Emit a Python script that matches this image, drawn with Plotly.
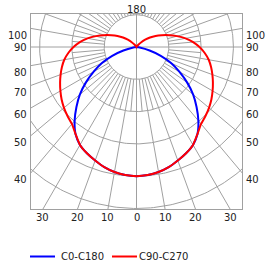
import numpy as np
import plotly.graph_objects as go

# ---- data (luminous intensity, arbitrary units; ring step = 50) ----
angles_c0 = [0, 5, 10, 15, 20, 25, 30, 35, 40, 45, 50, 55, 60, 65, 70, 75, 80, 85, 90]
int_c0_c180 = [200, 199, 196.5, 192.5, 187, 181.5, 175, 164.5, 149, 131.5, 114.5, 95.5, 76.5, 59.5, 40, 21, 5, 0, 0]

angles_c90 = [0, 5, 10, 15, 20, 25, 30, 35, 40, 45, 50, 55, 60, 65, 70, 75, 80, 85, 90,
              95, 100, 105, 110, 115, 120, 125, 130, 135, 140, 145, 150, 160, 170, 180]
int_c90_c270 = [200, 199, 196.5, 192.5, 187, 181.5, 175, 164.5, 155.5, 151, 146.5, 141.5, 136, 130.5,
                125, 119.5, 113.5, 106, 97.5, 88, 77, 65, 53.5, 43, 34, 25.5, 17.5, 10.5, 5, 1.5, 0, 0, 0, 0]

ring_values = [50, 100, 150, 200, 250, 300, 350]
side_labels = [100, 90, 80, 70, 60, 50, 40]
bottom_labels = [30, 20, 10, 0, 10, 20, 30]
bottom_angles = [-30, -20, -10, 0, 10, 20, 30]
series_names = ["C0-C180", "C90-C270"]
series_colors = ["#0000ff", "#ff0000"]

# plot window (data units)
XR = 163.3
Y_TOP = 51.1
Y_BOT = -250.8

GRID = "#a0a0a0"
FONT = "DejaVu Sans"
TXT = "#222222"

# plot area in pixels (for the hand-made legend)
W, H = 275, 266
ML, MR, MT, MB = 31, 33, 14, 57
PW, PH = W - ML - MR, H - MT - MB


def px_x(p):
    return (p - ML) / PW


def px_y(p):
    return (H - MB - p) / PH


fig = go.Figure()

# ---- grid: rings ----
t = np.linspace(0, 2 * np.pi, 361)
gx, gy = [], []
for rv in ring_values:
    gx += list(rv * np.cos(t)) + [None]
    gy += list(rv * np.sin(t)) + [None]
# full axis lines
gx += [-1000, 1000, None, 0, 0, None]
gy += [0, 0, None, -1000, 1000, None]
# spokes every 10 deg from first ring outwards, every 5 deg between ring 1 and 2
r1, r2 = ring_values[0], ring_values[1]
for a in range(5, 180, 5):
    if a == 90:
        continue
    rad = np.deg2rad(a)
    rout = 1000 if a % 10 == 0 else r2
    for s in (-1, 1):
        gx += [s * r1 * np.sin(rad), s * rout * np.sin(rad), None]
        gy += [-r1 * np.cos(rad), -rout * np.cos(rad), None]
fig.add_trace(go.Scatter(x=gx, y=gy, mode="lines", line=dict(color=GRID, width=1),
                         hoverinfo="skip", showlegend=False))


def curve(angles, vals):
    a = np.deg2rad(np.array(angles, dtype=float))
    v = np.array(vals, dtype=float)
    xl = -v[::-1] * np.sin(a[::-1])
    yl = -v[::-1] * np.cos(a[::-1])
    xr = v * np.sin(a)
    yr = -v * np.cos(a)
    return np.concatenate([xl, xr[1:]]), np.concatenate([yl, yr[1:]])


for ang, vals, name, col in [(angles_c0, int_c0_c180, series_names[0], series_colors[0]),
                             (angles_c90, int_c90_c270, series_names[1], series_colors[1])]:
    x, y = curve(ang, vals)
    fig.add_trace(go.Scatter(x=x, y=y, mode="lines", name=name, showlegend=False,
                             line=dict(color=col, width=2, shape="spline", smoothing=0.5),
                             hoverinfo="skip"))

# ---- labels ----
ann = []
for a in side_labels:
    rad = np.deg2rad(a)
    yv = -XR * np.cos(rad) / np.sin(rad)
    ys = 0 if a == 90 else -7
    ann.append(dict(x=-XR, y=yv, text=str(a), showarrow=False, xanchor="right", yanchor="middle",
                    xshift=-2, yshift=ys))
    ann.append(dict(x=XR, y=yv, text=str(a), showarrow=False, xanchor="left", yanchor="middle",
                    xshift=2, yshift=ys))
for lab, a in zip(bottom_labels, bottom_angles):
    rad = np.deg2rad(a)
    xv = -Y_BOT * np.tan(rad)
    ann.append(dict(x=xv, y=Y_BOT, text=str(lab), showarrow=False, xanchor="center", yanchor="middle",
                    yshift=-8))
ann.append(dict(x=0, y=Y_TOP, text="180", showarrow=False, xanchor="center", yanchor="middle", yshift=5))

# ---- legend (keys + real text) ----
shapes = []
leg_y = 256.5
leg_items = [(30, 55, 59), (112, 137, 137)]
for (x0, x1, xt), name, col in zip(leg_items, series_names, series_colors):
    shapes.append(dict(type="line", xref="paper", yref="paper", x0=px_x(x0), x1=px_x(x1),
                       y0=px_y(leg_y), y1=px_y(leg_y), line=dict(color=col, width=2)))
    ann.append(dict(xref="paper", yref="paper", x=px_x(xt), y=px_y(leg_y), text=name, showarrow=False,
                    xanchor="left", yanchor="middle"))

fig.update_layout(
    width=W, height=H, autosize=False,
    margin=dict(l=ML, r=MR, t=MT, b=MB),
    paper_bgcolor="white", plot_bgcolor="white",
    font=dict(family=FONT, size=10, color=TXT),
    xaxis=dict(range=[-XR, XR], showgrid=False, zeroline=False, showticklabels=False, ticks="",
               showline=True, mirror=True, linecolor=GRID, linewidth=1, fixedrange=True),
    yaxis=dict(range=[Y_BOT, Y_TOP], showgrid=False, zeroline=False, showticklabels=False, ticks="",
               showline=True, mirror=True, linecolor=GRID, linewidth=1, fixedrange=True),
    annotations=ann,
    shapes=shapes,
    showlegend=False,
)

fig.write_html("out.html")
